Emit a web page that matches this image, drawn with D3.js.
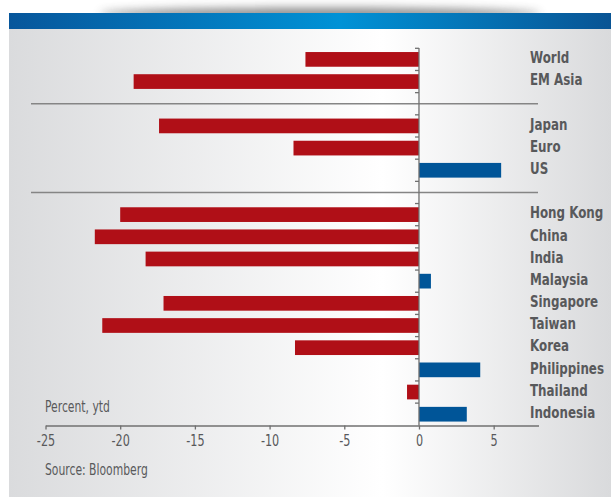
<!DOCTYPE html>
<html>
<head>
<meta charset="UTF-8" />
<title>Stock markets, percent ytd</title>
<script src="https://d3js.org/d3.v7.min.js"></script>
<style>
body { margin: 0px; background: #fff; }
svg { display: block; }
.lab { font-family: "DejaVu Sans Condensed", "DejaVu Sans", sans-serif; font-stretch: condensed; }
</style>
</head>
<body>
<svg id="chart" width="611" height="497"></svg>
<script>
// data
const categories = ["World", "EM Asia", "Japan", "Euro", "US", "Hong Kong", "China", "India",
    "Malaysia", "Singapore", "Taiwan", "Korea", "Philippines", "Thailand", "Indonesia"];
const values = [-7.6, -19.1, -17.4, -8.4, 5.5, -20.0, -21.7, -18.3, 0.8, -17.1, -21.2, -8.3, 4.1, -0.8, 3.2];
const groupEnds = ["EM Asia", "US"];   // a divider line follows these
const xTicks = [-25, -20, -15, -10, -5, 0, 5];
const xDomain = [-25, 8];
const unitLabel = "Percent, ytd";
const sourceLabel = "Source: Bloomberg";

const width = 611, height = 497;
const squeeze = 0.8; // no narrow font installed, so squash the condensed one a bit
let svg = d3.select("#chart");
let defs = svg.append("defs");

// panel background gradient
let bg = defs.append("linearGradient").attr("id", "bg");
bg.append("stop").attr("offset", "0%").attr("stop-color", "#dadbdd");
bg.append("stop").attr("offset", "62%").attr("stop-color", "#ffffff");
bg.append("stop").attr("offset", "100%").attr("stop-color", "#d9dadc");

// blue band gradient
let band = defs.append("linearGradient").attr("id", "band");
band.append("stop").attr("offset", "0%").attr("stop-color", "#07569b");
band.append("stop").attr("offset", "55%").attr("stop-color", "#0092d6");
band.append("stop").attr("offset", "100%").attr("stop-color", "#095494");

let blur = defs.append("filter").attr("id", "blur").attr("x", "-20%").attr("y", "-200%")
    .attr("width", "140%").attr("height", "500%");
blur.append("feGaussianBlur").attr("stdDeviation", 5);

// shadow over the band
svg.append("ellipse")
    .attr("cx", 320).attr("cy", 14).attr("rx", 220).attr("ry", 6)
    .attr("fill", "#7a7a7a").attr("opacity", 0.9)
    .attr("filter", "url(#blur)");

svg.append("rect").attr("x", 9).attr("y", 29).attr("width", width - 9).attr("height", height - 29)
    .attr("fill", "url(#bg)");
svg.append("rect").attr("x", 9).attr("y", 13).attr("width", width - 9).attr("height", 16)
    .attr("fill", "url(#band)");

// slots: categories plus an empty slot after each group
let slots = [];
categories.forEach(c => {
    slots.push(c);
    if (groupEnds.includes(c)) slots.push("gap-" + c);
});

let x = d3.scaleLinear().domain(xDomain).range([45.5, 538.5]);
let y = d3.scaleBand().domain(slots).range([48.3, 425.3]).padding(0);
let barH = 14.7;
let x0 = x(0);

// bars
svg.append("g").selectAll("rect")
    .data(categories)
    .join("rect")
    .attr("x", (d, i) => Math.min(x(values[i]), x0))
    .attr("y", d => y(d) + (y.bandwidth() - barH) / 2)
    .attr("width", (d, i) => Math.abs(x(values[i]) - x0))
    .attr("height", barH)
    .attr("fill", (d, i) => values[i] < 0 ? "#b00f17" : "#005598");

// group dividers
svg.append("g").selectAll("line")
    .data(slots.filter(s => s.startsWith("gap-")))
    .join("line")
    .attr("x1", 31).attr("x2", 538)
    .attr("y1", d => y(d) + y.bandwidth() / 2)
    .attr("y2", d => y(d) + y.bandwidth() / 2)
    .attr("stroke", "#858585").attr("stroke-width", 1.6);

// vertical axis at zero with ticks at slot boundaries
let yAxis = svg.append("g").attr("stroke", "#707070").attr("stroke-width", 1.3);
yAxis.append("line").attr("x1", x0).attr("x2", x0).attr("y1", 48).attr("y2", 425.5);
yAxis.selectAll(".tk")
    .data(slots.map(s => y(s)))
    .join("line")
    .attr("class", "tk")
    .attr("x1", x0 - 4).attr("x2", x0)
    .attr("y1", d => d).attr("y2", d => d);

// category labels
svg.append("g").selectAll("text")
    .data(categories)
    .join("text")
    .attr("class", "lab")
    .attr("transform", d => `translate(530,${y(d) + y.bandwidth() / 2 + 3.8}) scale(${squeeze},1)`)
    .attr("font-size", 16.5)
    .attr("font-weight", "bold")
    .attr("fill", "#58595b")
    .text(d => d);

// x axis
let xAxis = svg.append("g")
    .attr("transform", "translate(0,425.5)")
    .call(d3.axisBottom(x).tickValues(xTicks).tickSize(4).tickSizeOuter(0).tickFormat(d => String(d)));
xAxis.select(".domain").attr("stroke", "#707070").attr("stroke-width", 1.3);
xAxis.selectAll(".tick line").attr("stroke", "#707070").attr("stroke-width", 1.3);
xAxis.selectAll(".tick text")
    .attr("class", "lab")
    .attr("y", 9.5)
    .attr("transform", `scale(0.78,1)`)
    .attr("font-size", 16)
    .attr("fill", "#58595b");

svg.append("text").attr("class", "lab")
    .attr("transform", `translate(45,412) scale(${squeeze},1)`)
    .attr("font-size", 15).attr("fill", "#58595b")
    .text(unitLabel);

svg.append("text").attr("class", "lab")
    .attr("transform", `translate(45,475) scale(${squeeze},1)`)
    .attr("font-size", 15).attr("fill", "#58595b")
    .text(sourceLabel);
</script>
</body>
</html>
